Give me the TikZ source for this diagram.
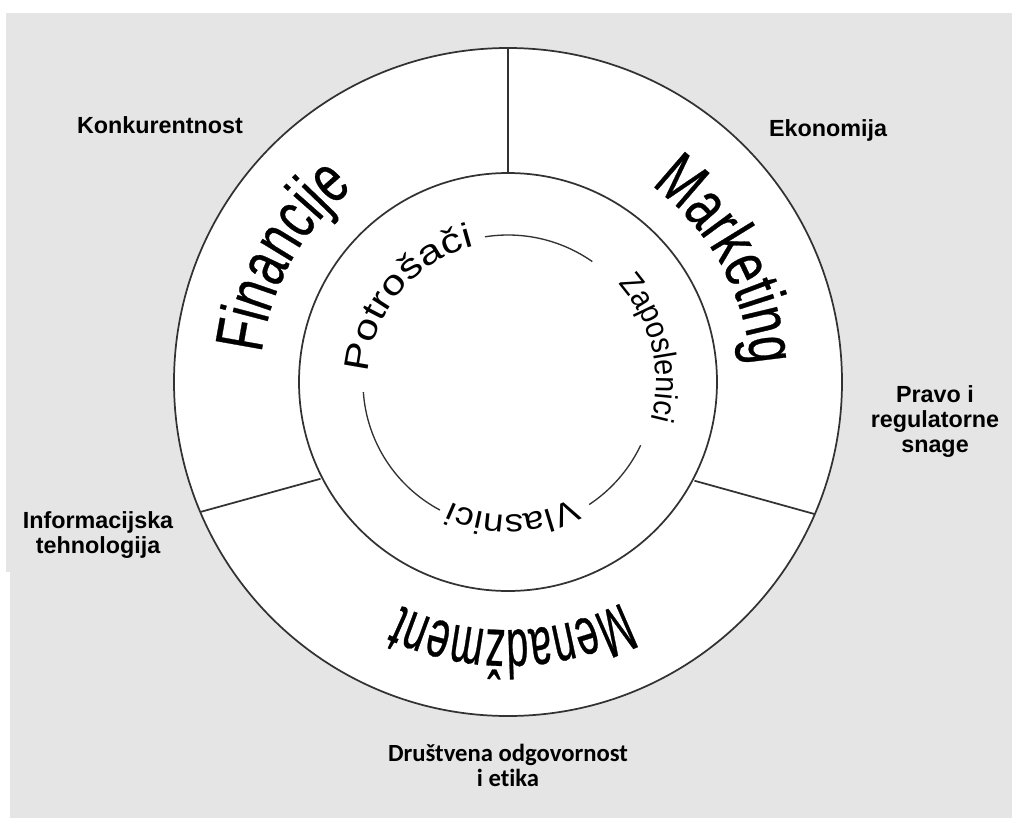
\documentclass[tikz,border=0pt]{standalone}
\usepackage{fontspec}
\setmainfont{Liberation Sans}
\newfontfamily\finfont[FakeStretch=0.71,FakeBold=0.4]{Liberation Sans}
\newfontfamily\markfont[FakeStretch=0.71,FakeBold=0.4]{Liberation Sans}
\newfontfamily\menfont[FakeStretch=0.58,FakeBold=0.4]{Liberation Sans}
\newfontfamily\potfont[FakeStretch=1.22]{Liberation Sans}
\newfontfamily\zapfont[FakeStretch=0.9]{Liberation Sans}
\newfontfamily\vlafont[FakeStretch=1.15]{Liberation Sans}
\newfontfamily\calfont[Ligatures=NoCommon]{Carlito}
\usetikzlibrary{decorations.text}
\definecolor{bggray}{RGB}{229,229,229}
\definecolor{linec}{RGB}{50,50,50}
\begin{document}
\begin{tikzpicture}[x=0.75pt,y=0.75pt,
  ring/.style={draw=linec, line width=1.3pt},
  thinarc/.style={draw=linec, line width=1.0pt},
  outerlabel/.style={font=\bfseries\fontsize{17.5}{18.75}\selectfont, align=center, text=black, inner sep=0pt},
  curved/.style 2 args={decorate, decoration={text along path, text align=center,
      text={|#1|#2}}}
]
\useasboundingbox (-508,-436) rectangle (504,382);
\fill[white] (-508,-436) rectangle (504,382);
\fill[bggray] (-502,369) rectangle (504,-190);
\fill[bggray] (-498,-190) rectangle (504,-436);

% circles
\filldraw[ring, fill=white] (0,0) circle[radius=334];
\draw[ring] (0,0) circle[radius=209];

% dividers
\coordinate (vt) at (90:334);
\coordinate (vb) at (90:209);
\coordinate (lo) at (202.9:334);
\coordinate (li) at (207.3:211);
\coordinate (ro) at (336.7:334);
\coordinate (ri) at (332.1:211);
\draw[ring] (vt) -- (vb);
\draw[ring] (lo) -- (li);
\draw[ring] (ro) -- (ri);

% innermost broken circle
\draw[thinarc] (99:147) arc[start angle=99, end angle=55, radius=147];
\draw[thinarc] (184:145) arc[start angle=184, end angle=242, radius=145];
\draw[thinarc] (334.5:147) arc[start angle=334.5, end angle=303.5, radius=147];

% big ring labels
\path[curved={\finfont\fontsize{51}{51}\selectfont}{Financije}] (211:248) arc[start angle=211, end angle=91, radius=248];
\path[curved={\markfont\fontsize{51}{51}\selectfont}{Marketing}] (89:243) arc[start angle=89, end angle=-31, radius=243];
\path[curved={\menfont\fontsize{51}{51}\selectfont}{Menadžment}] (331:248) arc[start angle=331, end angle=211, radius=248];

% inner labels
\path[curved={\potfont\fontsize{26}{26}\selectfont}{Potrošači}] (200:140) arc[start angle=200, end angle=80, radius=140];
\path[curved={\zapfont\fontsize{24}{24}\selectfont}{Zaposlenici}] (73.5:148) arc[start angle=73.5, end angle=-46.5, radius=148];
\path[curved={\vlafont\fontsize{24}{24}\selectfont}{Vlasnici}] (332:133) arc[start angle=332, end angle=212, radius=133];

% outside labels
\node[outerlabel] (konk) at (-348,257) {Konkurentnost};
\node[outerlabel] (ekon) at (320,252) {Ekonomija};
\node[outerlabel] (prav) at (427,-40) {Pravo i\\regulatorne\\snage};
\node[outerlabel] (info) at (-410,-153) {Informacijska\\tehnologija};
\node[outerlabel, font=\calfont\bfseries\fontsize{18.5}{18.75}\selectfont] (drus) at (0,-383) {Društvena odgovornost\\i etika};
\end{tikzpicture}
\end{document}
